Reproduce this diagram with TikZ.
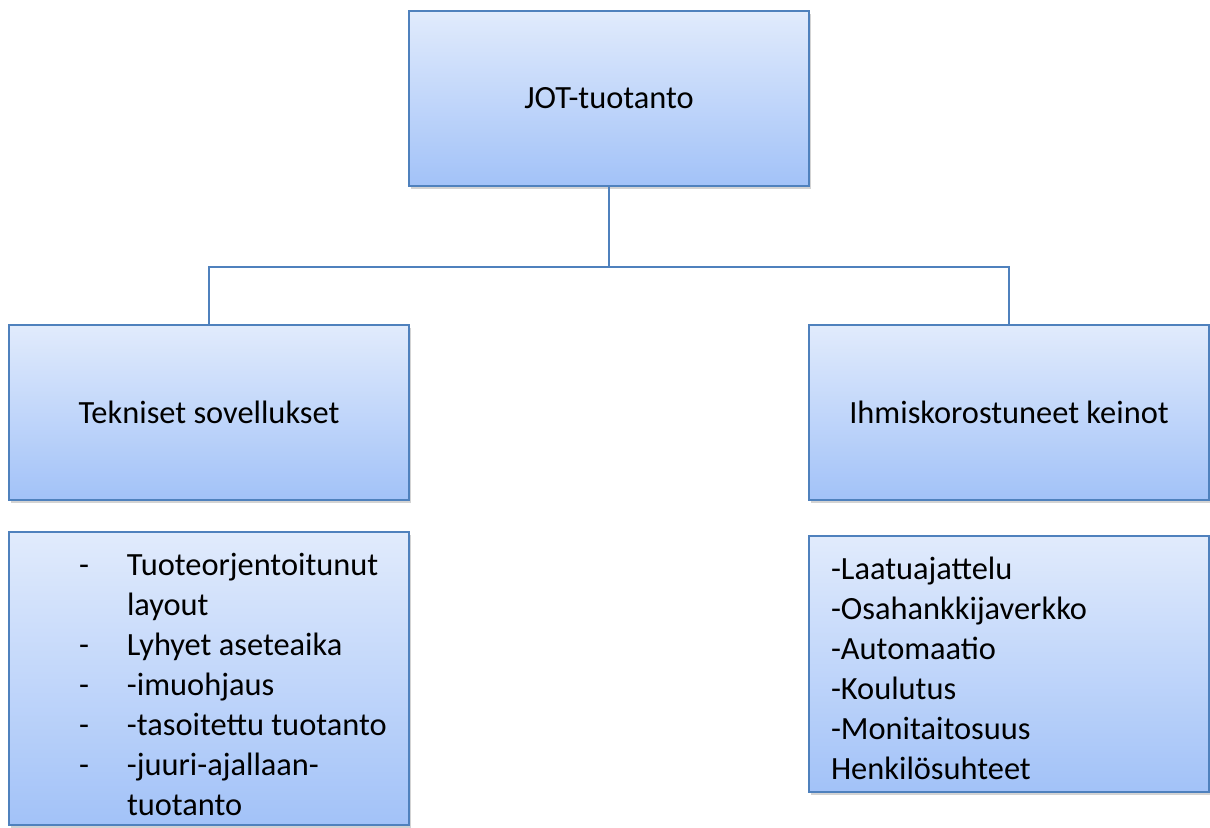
\documentclass[tikz,border=0pt]{standalone}
\usepackage{fontspec}
\setmainfont{Carlito}
\usepackage{tikz}
\usetikzlibrary{positioning,shadows}
\definecolor{Edge}{HTML}{4F81BD}
\definecolor{FillTop}{HTML}{E1EBFC}
\definecolor{FillBot}{HTML}{A2C2F8}
\definecolor{TextDark}{HTML}{000000}
\newcommand{\dashitem}{\hspace*{30pt}\makebox[24pt][l]{-}}
\newcommand{\hangitem}{\hspace*{54pt}}

\begin{document}
\begin{tikzpicture}[
    node distance=16pt and 0pt,
    box/.style={rectangle, draw=Edge, line width=1pt, outer sep=0pt, top color=FillTop, bottom color=FillBot, minimum width=200pt, minimum height=87.5pt, align=center, font=\fontsize{16.2pt}{20pt}\selectfont\color{TextDark}, drop shadow={opacity=0.35, shadow xshift=1pt, shadow yshift=-1.5pt}},
    listbox/.style={box, align=left, inner xsep=5pt, text width=190pt, execute at begin node={\spaceskip=\fontdimen2\font\relax}},
    conn/.style={draw=Edge, line width=1pt}
  ]
    \useasboundingbox (0,0) rectangle (605pt,-413.5pt);

    % Top level
    \node (jot) [box] at (304.5pt,-49.25pt) {JOT-tuotanto};

    % Second level
    \node (tek) [box, below left=69.5pt and 0pt of jot.south west, anchor=north east] {Tekniset sovellukset};
    \node (ihm) [box, below right=69.5pt and 0pt of jot.south east, anchor=north west] {Ihmiskorostuneet keinot};

    % Lists
    \node (teklist) [listbox, below=16pt of tek, minimum height=146.5pt] {\rule{0pt}{17pt}\dashitem Tuoteorjentoitunut\\ \hangitem layout\\ \dashitem Lyhyet aseteaika\\ \dashitem -imuohjaus\\ \dashitem -tasoitettu tuotanto\\ \dashitem -juuri-ajallaan-\\ \hangitem tuotanto};
    \node (ihmlist) [listbox, below=18pt of ihm, minimum height=128pt, inner xsep=11pt, text width=178pt] {\rule{0pt}{16pt}-Laatuajattelu\\ -Osahankkijaverkko\\ -Automaatio\\ -Koulutus\\ -Monitaitosuus\\ Henkilösuhteet};

    % Connections
    \draw [conn] (jot.south) -- ++(0,-40.5pt) coordinate (hub);
    \draw [conn] (hub) -| (tek.north);
    \draw [conn] (hub) -| (ihm.north);
  \end{tikzpicture}
\end{document}
